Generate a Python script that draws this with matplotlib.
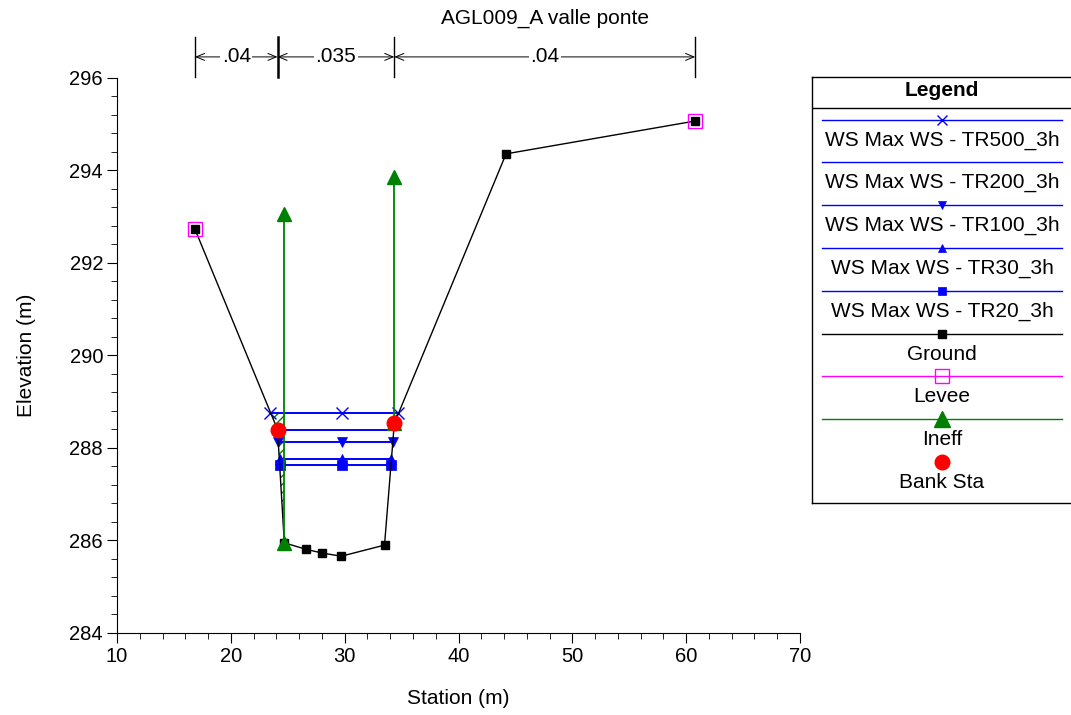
import numpy as np
import matplotlib
matplotlib.use("Agg")
import matplotlib.pyplot as plt
from matplotlib.ticker import MultipleLocator
from matplotlib.transforms import blended_transform_factory

plt.rcParams['font.family'] = ['Liberation Sans', 'DejaVu Sans']
plt.rcParams['hatch.linewidth'] = 1.0

title = "AGL009_A valle ponte"

ground_sta = [16.85, 24.1, 24.7, 26.6, 28.0, 29.7, 33.5, 34.36, 44.18, 60.79]
ground_elev = [292.73, 288.4, 285.95, 285.81, 285.73, 285.66, 285.9, 288.53, 294.36, 295.07]

levee_sta = [16.85, 60.79]
levee_elev = [292.73, 295.07]

ineff_left_sta = [24.7, 24.7]
ineff_left_elev = [293.06, 285.95]
ineff_right_sta = [34.33, 34.33]
ineff_right_elev = [293.86, 288.53]

bank_sta = [24.1, 34.36]
bank_elev = [288.4, 288.53]

ws_names = ["WS Max WS - TR500_3h", "WS Max WS - TR200_3h", "WS Max WS - TR100_3h",
            "WS Max WS - TR30_3h", "WS Max WS - TR20_3h"]
ws_elev = [288.76, 288.40, 288.14, 287.76, 287.63]
ws_left = [23.45, 24.1, 24.17, 24.3, 24.3]
ws_right = [34.7, 34.3, 34.22, 34.07, 34.05]
ws_mid = [29.77, 29.77, 29.74, 29.74, 29.74]
ws_marker = ['x', None, 'v', '^', 's']

n_breaks = [16.85, 24.1, 34.36, 60.79]
n_values = [".04", ".035", ".04"]

# ---- figure ----
fig = plt.figure(figsize=(10.71, 7.15), dpi=100)
ax = fig.add_axes([117 / 1071, 1 - 633 / 715, 683 / 1071, 555 / 715])

# water surfaces
for name, z, xl, xr, xm, mk in zip(ws_names, ws_elev, ws_left, ws_right, ws_mid, ws_marker):
    ax.plot([xl, xr], [z, z], color='blue', lw=1.4, zorder=3)
    if mk is not None:
        ax.plot([xl, xm, xr], [z, z, z], ls='none', marker=mk, color='blue',
                ms=6.5 if mk != 'x' else 8, mew=1.0 if mk == 'x' else 0.5, zorder=4)

# ineffective area hatch (left side, below top water surface)
gy = np.linspace(ineff_left_elev[1], ws_elev[0], 50)
gx = np.interp(gy, ground_elev[2::-1], ground_sta[2::-1])
ax.fill_betweenx(gy, gx, ineff_left_sta[0], facecolor='none', edgecolor='green',
                 hatch='////', lw=0, zorder=2)

# ground
ax.plot(ground_sta, ground_elev, color='black', lw=1.0, marker='s', ms=6, zorder=5)

# levee
ax.plot(levee_sta, levee_elev, ls='none', marker='s', ms=9.5, mfc='none',
        mec='magenta', mew=1.0, zorder=6)

# ineffective flow lines
ax.plot(ineff_left_sta, ineff_left_elev, color='green', lw=1.3, marker='^', ms=10, zorder=6)
ax.plot(ineff_right_sta, ineff_right_elev, color='green', lw=1.3, marker='^', ms=10, zorder=6)

# bank stations
ax.plot(bank_sta, bank_elev, ls='none', marker='o', color='red', ms=10.5, zorder=7)

ax.set_xlim(10, 70)
ax.set_ylim(284, 296)
ax.xaxis.set_major_locator(MultipleLocator(10))
ax.xaxis.set_minor_locator(MultipleLocator(2))
ax.yaxis.set_major_locator(MultipleLocator(2))
ax.yaxis.set_minor_locator(MultipleLocator(0.4))
ax.spines['top'].set_visible(False)
ax.spines['right'].set_visible(False)
ax.tick_params(which='major', direction='out', length=7, labelsize=14.5, pad=3)
ax.tick_params(which='minor', direction='out', length=4)
ax.set_xlabel("Station (m)", fontsize=15, labelpad=17)
ax.set_ylabel("Elevation (m)", fontsize=15, labelpad=24)

# manning's n bands above plot
trans = blended_transform_factory(ax.transData, ax.transAxes)
for i, s in enumerate(n_breaks):
    ax.plot([s, s], [1.002, 1.074], transform=trans, color='black',
            lw=1.8 if i == 1 else 1.0, clip_on=False)
for a, b, lab in zip(n_breaks[:-1], n_breaks[1:], n_values):
    ax.annotate("", xy=(a, 1.038), xytext=(b, 1.038), xycoords=trans, textcoords=trans,
                arrowprops=dict(arrowstyle='<->,head_length=0.6,head_width=0.25',
                                color='black', lw=0.7, shrinkA=0, shrinkB=0))
    ax.text((a + b) / 2, 1.038, lab, transform=trans, ha='center', va='center',
            fontsize=15, bbox=dict(facecolor='white', edgecolor='none', pad=1))

fig.text(545 / 1071, 1 - 18 / 715, title, ha='center', va='center', fontsize=15)

# ---- legend box drawn in its own axes (pixel coordinates) ----
lg = fig.add_axes([812 / 1071, 1 - 503 / 715, (1071 - 812) / 1071, 426 / 715])
lg.set_xlim(812, 1071)
lg.set_ylim(503, 77)
lg.set_xticks([])
lg.set_yticks([])
lg.spines['right'].set_visible(False)
for sp in ['left', 'top', 'bottom']:
    lg.spines[sp].set_linewidth(1.0)
lg.plot([812, 1071], [107.5, 107.5], color='black', lw=1.0)
lg.text(942, 90, "Legend", ha='center', va='center', fontsize=15, fontweight='bold')

entries = []
for name, mk in zip(ws_names, ws_marker):
    entries.append((name, dict(color='blue', lw=1.0, marker=mk, ms=6 if mk != 'x' else 7,
                               mew=1.0 if mk == 'x' else 0.5)))
entries.append(("Ground", dict(color='black', lw=1.0, marker='s', ms=6)))
entries.append(("Levee", dict(color='magenta', lw=1.0, marker='s', ms=10, mfc='none', mew=1.0)))
entries.append(("Ineff", dict(color='green', lw=1.0, marker='^', ms=11)))
entries.append(("Bank Sta", dict(color='red', ls='none', marker='o', ms=10.5)))

y0, dy = 119.5, 42.8
for k, (lab, st) in enumerate(entries):
    yl = y0 + k * dy
    style = dict(st)
    mk = style.pop('marker')
    if style.get('ls') != 'none':
        lg.plot([822, 1062], [yl, yl], color=style['color'], lw=style.get('lw', 1.0))
    if mk is not None:
        lg.plot([942], [yl], ls='none', marker=mk, color=style['color'], ms=style.get('ms', 7),
                mfc=style.get('mfc', style['color']), mew=style.get('mew', 1.0))
    lg.text(942, yl + 20.5, lab, ha='center', va='center', fontsize=15)

fig.savefig("out.png", dpi=100)
